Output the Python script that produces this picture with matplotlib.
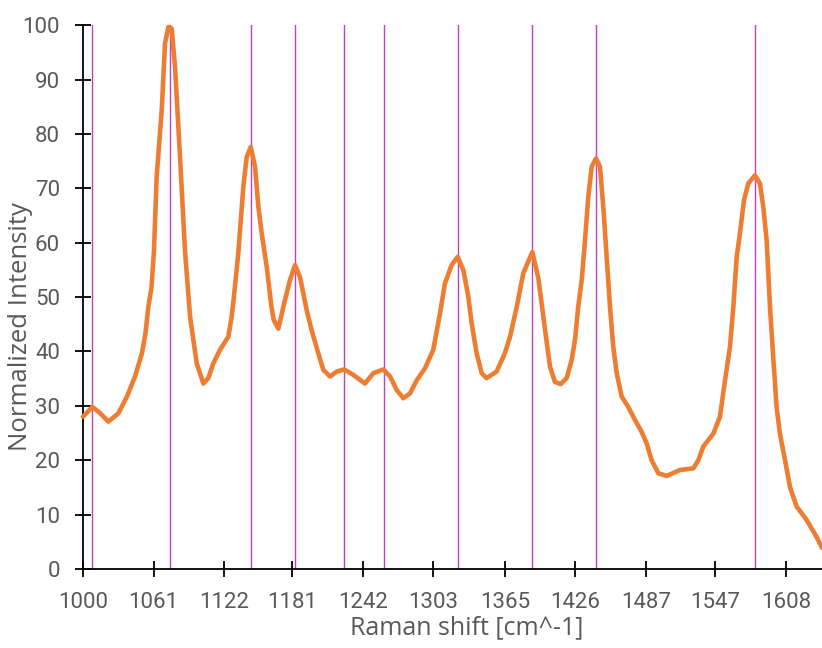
import numpy as np
import matplotlib
matplotlib.use('Agg')
import matplotlib.pyplot as plt

# Raman spectrum
shift = [1000, 1008, 1014, 1022, 1030.5, 1038, 1045, 1051, 1054, 1056.5,
         1059.3, 1061.4, 1063.7, 1068.1, 1070.9, 1073.8, 1076.7, 1079.6, 1083.9, 1088.2,
         1092.6, 1098.4, 1104.1, 1108.4, 1112.7, 1118.5, 1125.7, 1128.6, 1130.5, 1134.3,
         1138.7, 1141.6, 1145.1, 1148.8, 1151.7, 1154.6, 1158.9, 1163, 1165, 1169,
         1173.3, 1179, 1183.4, 1187.7, 1193.5, 1197.8, 1203.5, 1207.9, 1213.7, 1219.5,
         1226, 1233.8, 1243.9, 1251.1, 1259.8, 1265.6, 1271.4, 1277.1, 1282.9, 1288.7,
         1295.8, 1303, 1308.8, 1313.1, 1318.9, 1324.1, 1329, 1333.3, 1336.2, 1340.5,
         1344.9, 1349.2, 1357.8, 1365, 1369.4, 1375.2, 1380.9, 1388.7, 1393.9, 1399.7,
         1404, 1408.3, 1413.2, 1418.4, 1422.7, 1425.6, 1428.4, 1431.4, 1434.3, 1437.1,
         1440.1, 1443.8, 1447.2, 1450.1, 1453, 1455.9, 1458.7, 1461.7, 1466, 1471.7,
         1477.5, 1483.3, 1487.6, 1491.9, 1497.7, 1504.9, 1516.4, 1528, 1532.3, 1536.6,
         1545.3, 1551, 1555.4, 1559.7, 1562.6, 1565.5, 1568.3, 1571.8, 1575.5, 1581.3,
         1585.6, 1588.5, 1591.4, 1594.3, 1597.1, 1600, 1602.9, 1607.3, 1611.6, 1617.3,
         1626, 1634.6, 1639.3]
intensity = [28.0, 29.8, 28.8, 27.1, 28.6, 31.7, 35.4, 39.7, 43.3, 48.2,
             51.9, 58.6, 72.1, 84.4, 96.6, 99.7, 99.4, 92.3, 75.8, 58.6,
             46.4, 37.8, 34.1, 35.1, 37.8, 40.3, 42.7, 46.4, 50.0, 58.0,
             70.3, 75.8, 77.6, 74.0, 66.6, 61.7, 55.6, 48.2, 45.8, 44.2,
             48.2, 53.1, 55.9, 53.7, 47.6, 43.9, 39.7, 36.6, 35.4, 36.3,
             36.7, 35.7, 34.1, 36.0, 36.7, 35.4, 32.9, 31.4, 32.3, 34.7,
             36.9, 40.3, 47.0, 52.5, 55.9, 57.4, 55.0, 50.1, 45.2, 39.7,
             36.0, 35.1, 36.3, 39.7, 42.7, 48.2, 54.4, 58.3, 53.5, 44.0,
             37.2, 34.4, 34.0, 35.1, 38.4, 42.1, 48.2, 53.1, 60.5, 68.4,
             74.0, 75.5, 74.0, 66.6, 57.4, 48.2, 40.9, 36.0, 31.7, 29.8,
             27.4, 25.2, 23.1, 20.0, 17.6, 17.1, 18.2, 18.5, 20.0, 22.5,
             24.9, 28.0, 34.7, 40.9, 48.2, 57.4, 61.7, 67.8, 70.9, 72.4,
             70.9, 66.6, 60.5, 48.2, 39.0, 29.8, 24.9, 20.0, 15.1, 11.5,
             9.0, 5.9, 3.9]

# marked band positions
bands = [1008, 1075, 1145.6, 1183.4, 1226, 1260, 1324, 1388.7, 1444, 1581.3]
tick_labels = [1000, 1061, 1122, 1181, 1242, 1303, 1365, 1426, 1487, 1547, 1608]

plt.rcParams['font.family'] = ['Roboto', 'DejaVu Sans']

fig = plt.figure(figsize=(8.22, 6.48), dpi=100)
ax = fig.add_axes([0.101, 0.122, 0.899, 0.839])

for b in bands:
    ax.axvline(b, color='#BF40BF', lw=1.0, zorder=1)

ax.plot(shift, intensity, color='#ED7D31', lw=3.3, solid_joinstyle='round',
        solid_capstyle='round', zorder=3, clip_on=False)

ax.set_xlim(1000, 1639.3)
ax.set_ylim(0, 100)
ax.set_xticks(tick_labels)
ax.set_yticks(np.arange(0, 101, 10))

for s in ['top', 'right']:
    ax.spines[s].set_visible(False)
for s in ['left', 'bottom']:
    ax.spines[s].set_linewidth(1.3)
    ax.spines[s].set_color('black')

ax.tick_params(axis='both', direction='inout', length=11, width=1.3,
               colors='black', labelcolor='#595959', labelsize=16)
ax.tick_params(axis='x', pad=11)
ax.tick_params(axis='y', pad=11)

ax.set_xlabel('Raman shift [cm^-1]', fontsize=18, color='#595959',
              family=['Open Sans', 'DejaVu Sans'])
ax.set_ylabel('Normalized Intensity', fontsize=18.5, color='#595959',
              family=['Open Sans', 'DejaVu Sans'])
ax.xaxis.set_label_coords(0.519, -0.085)
ax.yaxis.set_label_coords(-0.068, 0.446)

fig.savefig('out.png', dpi=100)
